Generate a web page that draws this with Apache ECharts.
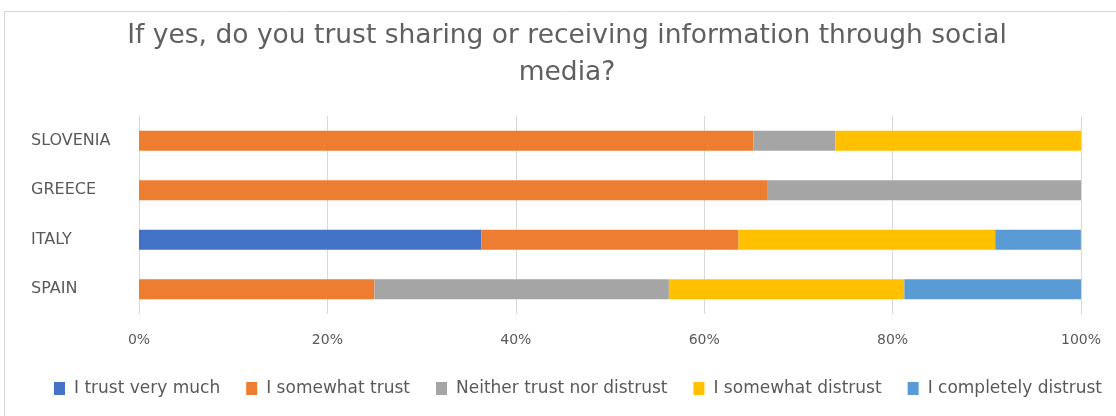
<!DOCTYPE html>
<html>
<head>
<meta charset="utf-8">
<style>
  html, body { margin: 0; padding: 0; background: #ffffff; }
  #chart { width: 1116px; height: 416px; }
</style>
<script src="https://cdn.jsdelivr.net/npm/echarts@6/dist/echarts.min.js"></script>
</head>
<body>
<div id="chart"></div>
<script>
// Countries, listed bottom to top on the category axis
const countries = ['SPAIN', 'ITALY', 'GREECE', 'SLOVENIA'];

// Share of answers per country (%), one array per answer option
const trustVeryMuch      = [0,     36.36, 0,     0];
const somewhatTrust      = [25,    27.27, 66.67, 65.22];
const neitherTrust       = [31.25, 0,     33.33, 8.70];
const somewhatDistrust   = [25,    27.27, 0,     26.09];
const completelyDistrust = [18.75, 9.09,  0,     0];

const seriesNames = ['I trust very much', 'I somewhat trust', 'Neither trust nor distrust', 'I somewhat distrust', 'I completely distrust'];
const seriesData = [trustVeryMuch, somewhatTrust, neitherTrust, somewhatDistrust, completelyDistrust];
const seriesColors = ['#4472C4', '#ED7D31', '#A5A5A5', '#FFC000', '#5B9BD5'];

const xTicks = [0, 20, 40, 60, 80, 100];

const textGray = '#595959';

const chart = echarts.init(document.getElementById('chart'), null, { renderer: 'canvas' });

chart.setOption({
  animation: false,
  backgroundColor: '#ffffff',
  color: seriesColors,
  graphic: [{
    type: 'rect',
    shape: { x: 4.5, y: 11.5, width: 1200, height: 500 },
    style: { fill: 'none', stroke: '#d9d9d9', lineWidth: 1 },
    silent: true
  }],
  title: {
    text: 'If yes, do you trust sharing or receiving information through social\nmedia?',
    left: 562,
    textAlign: 'center',
    top: 13,
    textStyle: {
      color: '#606060',
      fontFamily: 'DejaVu Sans',
      fontSize: 26.5,
      fontWeight: 'normal',
      lineHeight: 37
    }
  },
  legend: {
    bottom: 14,
    left: 49,
    itemWidth: 11,
    itemHeight: 13,
    itemGap: 26,
    icon: 'rect',
    textStyle: { color: textGray, fontFamily: 'DejaVu Sans', fontSize: 17, padding: [0, 0, 0, 4] },
    data: seriesNames
  },
  grid: { left: 139, right: 35, top: 116, bottom: 102, containLabel: false },
  xAxis: {
    type: 'value',
    min: 0,
    max: 100,
    interval: 20,
    axisLine: { show: false },
    axisTick: { show: false },
    splitLine: { show: true, lineStyle: { color: '#d9d9d9', width: 1 } },
    axisLabel: {
      color: textGray,
      fontFamily: 'DejaVu Sans',
      fontSize: 14,
      margin: 19,
      formatter: v => (xTicks.includes(v) ? v + '%' : '')
    }
  },
  yAxis: {
    type: 'category',
    data: countries,
    axisLine: { show: false },
    axisTick: { show: false },
    axisLabel: {
      color: textGray,
      fontFamily: 'DejaVu Sans',
      fontSize: 16,
      align: 'left',
      margin: 108
    }
  },
  series: seriesNames.map((name, i) => ({
    name: name,
    type: 'bar',
    stack: 'total',
    barCategoryGap: '60%',
    data: seriesData[i],
    itemStyle: { color: seriesColors[i] }
  }))
});
</script>
</body>
</html>
